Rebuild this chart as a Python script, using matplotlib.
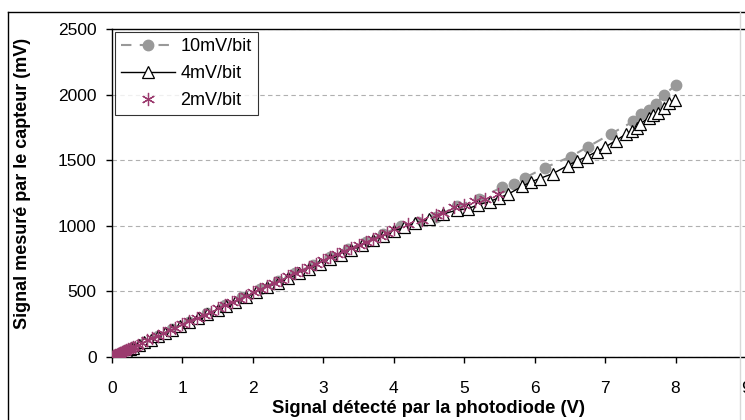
import matplotlib.pyplot as plt
from matplotlib.lines import Line2D

plt.rcParams['font.family'] = ['Liberation Sans', 'DejaVu Sans']

# 10mV/bit (grey circles, dashed grey line)
x10 = [0.03, 0.06, 0.1, 0.15, 0.2, 0.3, 0.45, 0.65, 0.85, 1.1, 1.35, 1.6, 1.85, 2.1,
       2.35, 2.6, 2.85, 3.1, 3.35, 3.6, 3.85, 4.1, 4.35, 4.6, 4.9, 5.21, 5.53, 5.70,
       5.87, 6.15, 6.51, 6.76, 7.08, 7.40, 7.51, 7.63, 7.72, 7.84, 8.01]
y10 = [8, 15, 25, 37, 50, 74, 110, 160, 210, 270, 332, 395, 455, 518,
       580, 640, 700, 760, 820, 880, 940, 995, 1030, 1070, 1150, 1208, 1292, 1322,
       1368, 1444, 1527, 1603, 1700, 1795, 1855, 1885, 1930, 2000, 2075]

# 4mV/bit (open triangles, black line)
x4 = [0.02, 0.05, 0.08, 0.12, 0.16, 0.2, 0.25, 0.3, 0.38, 0.46, 0.55, 0.65, 0.75, 0.85,
      0.97, 1.1, 1.22, 1.35, 1.5, 1.62, 1.75, 1.9, 2.05, 2.2, 2.35, 2.5, 2.65, 2.8,
      2.95, 3.1, 3.25, 3.4, 3.55, 3.7, 3.85, 4.0, 4.15, 4.3, 4.5, 4.7, 4.9, 5.05,
      5.2, 5.36, 5.5, 5.62, 5.82, 5.95, 6.07, 6.26, 6.47, 6.6, 6.74, 6.88, 7.0, 7.15,
      7.3, 7.38, 7.45, 7.5, 7.62, 7.68, 7.75, 7.84, 7.91, 7.99]
y4 = [5, 12, 20, 29, 39, 48, 60, 72, 92, 111, 133, 157, 181, 205,
      234, 265, 294, 325, 361, 390, 421, 457, 493, 530, 565, 600, 637, 672,
      708, 745, 780, 815, 850, 888, 922, 958, 990, 1020, 1050, 1090, 1120, 1130,
      1160, 1185, 1215, 1240, 1300, 1335, 1360, 1398, 1459, 1495, 1527, 1565, 1600, 1649,
      1700, 1725, 1745, 1778, 1824, 1845, 1860, 1900, 1938, 1955]

# 2mV/bit (purple asterisks)
x2 = [0.01, 0.02, 0.03, 0.04, 0.05, 0.06, 0.07, 0.08, 0.09, 0.1, 0.11, 0.12, 0.14, 0.15,
      0.17, 0.19, 0.2, 0.23, 0.25, 0.27, 0.3, 0.32, 0.37, 0.43, 0.5, 0.57, 0.65, 0.73,
      0.82, 0.9, 1.0, 1.1, 1.2, 1.3, 1.4, 1.5, 1.6, 1.7, 1.8, 1.9, 2.0, 2.1, 2.2, 2.3,
      2.4, 2.5, 2.6, 2.7, 2.8, 2.9, 3.0, 3.1, 3.2, 3.3, 3.4, 3.5, 3.6, 3.7, 3.8, 3.9,
      4.0, 4.2, 4.4, 4.6, 4.7, 4.86, 5.0, 5.15, 5.29, 5.48]
y2 = [4, 6, 9, 10, 13, 16, 18, 21, 24, 26, 29, 31, 36, 38,
      44, 48, 52, 58, 63, 68, 75, 80, 93, 108, 126, 143, 163, 182,
      205, 224, 250, 272, 298, 322, 346, 372, 396, 419, 445, 468, 494, 519, 542, 567,
      590, 616, 639, 664, 688, 712, 737, 760, 785, 808, 832, 856, 879, 903, 926, 948,
      972, 1015, 1045, 1080, 1094, 1140, 1160, 1190, 1208, 1246]

fig = plt.figure(figsize=(7.45, 4.2), dpi=100)
ax = fig.add_axes([0.1503, 0.15, 0.851, 0.781])

ax.plot(x10, y10, color='#999999', ls=(0, (5, 4)), lw=1.5, marker='o',
        ms=7.5, mfc='#999999', mec='#999999', label='10mV/bit', zorder=3)
ax.plot(x4, y4, color='black', lw=1, marker='^', ms=9, mfc='white',
        mec='black', mew=0.9, label='4mV/bit', zorder=4)
ax.plot(x2, y2, ls='none', marker=(6, 2, 0), ms=9.5, mec='#9b3a6e', mew=0.9,
        label='2mV/bit', zorder=5)

ax.set_xlim(0, 9)
ax.set_ylim(0, 2500)
ax.set_xticks(range(0, 10))
ax.set_yticks(range(0, 2501, 500))
ax.yaxis.grid(True, color='#b0b0b0', ls=(0, (4, 3)), lw=0.8)
ax.set_axisbelow(True)
ax.tick_params(direction='out', length=4, width=1, labelsize=12.5)
ax.tick_params(axis='x', pad=13)
ax.tick_params(axis='y', pad=7)
for s in ax.spines.values():
    s.set_linewidth(1)
ax.spines['right'].set_visible(False)

ax.set_xlabel('Signal détecté par la photodiode (V)', fontsize=13.2, fontweight='bold', labelpad=3)
ax.set_ylabel('Signal mesuré par le capteur (mV)', fontsize=13, fontweight='bold')
ax.yaxis.set_label_coords(-0.128, 0.53)

leg = ax.legend(loc='upper left', fontsize=13, frameon=True, fancybox=False,
                borderaxespad=0.15, handlelength=3.0, handletextpad=0.3,
                labelspacing=0.55, borderpad=0.35)
leg.get_frame().set_edgecolor('black')
leg.get_frame().set_linewidth(0.8)

# outer chart border
fig.add_artist(Line2D([8 / 745, 8 / 745], [0, 1 - 12 / 420], color='black', lw=1))
fig.add_artist(Line2D([8 / 745, 1], [1 - 12 / 420, 1 - 12 / 420], color='black', lw=1))
fig.add_artist(Line2D([740 / 745, 740 / 745], [0, 1 - 12 / 420], color='#d8d8d8', lw=1))

fig.savefig('out.png', dpi=100)
